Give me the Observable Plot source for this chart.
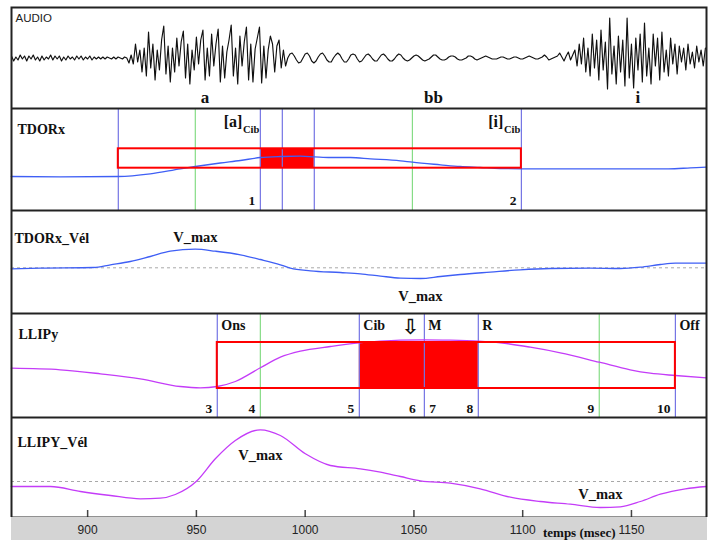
<!DOCTYPE html>
<html><head><meta charset="utf-8">
<script src="https://cdn.jsdelivr.net/npm/d3@7"></script>
<script src="https://cdn.jsdelivr.net/npm/@observablehq/plot@0.6"></script>
<style>
body{margin:0;background:#fff;}
#chart{width:709px;height:540px;overflow:hidden;background:#fff;}
#chart svg{display:block;}
</style>
</head><body><div id="chart"></div>
<script>
// ---------- shared time axis (ms) ----------
const xDomain = [865, 1184.5];
const xTicks = [900, 950, 1000, 1050, 1100, 1150];
const axisTitle = "temps (msec)";
const axisTitleAt = 1126;

// ---------- AUDIO (1 sample per ms from audioStart) ----------
const audioStart = 865;
const audioSamples = [
  2,-3,1,-2,3,-1,2,-3,2,-1,3,-2,1,-3,2,-2,1,-1,3,-2,
  2,-1,2,-3,1,-2,2,-1,1,-2,2,-1,2,-2,1,-1,2,-2,1,-1,
  1,-1,1,-1,1,0,-1,1,-1,1,0,-1,1,0,-5,3,-6,14,-4,8,
  -14,10,-18,26,-10,14,-22,8,-12,18,32,-16,12,-24,10,-14,20,-8,16,27,
  -20,14,-26,8,-12,21,-6,18,28,-22,10,-18,24,-8,14,29,-24,12,-20,6,
  18,33,-18,10,-26,22,-8,16,31,-22,14,-24,9,20,31,-25,12,-20,8,22,
  14,-14,12,18,-10,8,-8,0,4,5,2,-2,-5,-4,0,4,5,2,-3,-5,
  -3,1,4,5,2,-2,-4,-4,0,3,5,3,-1,-4,-4,-1,3,4,3,-1,
  -4,-3,0,3,4,2,-1,-3,-3,0,3,4,2,-1,-3,-3,-1,2,4,3,
  0,-2,-3,-2,0,2,3,2,0,-2,-3,-2,-1,1,3,3,1,-1,-2,-2,
  -1,1,2,2,1,-1,-2,-2,-1,0,2,2,1,-1,-2,-1,0,1,2,1,
  0,-1,-1,-1,0,1,1,0,-1,-1,0,1,1,0,-1,-1,0,1,2,1,
  0,-1,-1,0,1,3,1,-2,-1,0,1,2,5,1,-3,2,6,-2,3,8,
  -8,14,-6,20,-14,10,-18,24,-10,18,-22,28,-12,16,-31,40,-16,12,-26,22,
  -14,18,-28,40,-20,14,-30,20,-12,24,-24,35,-18,10,-26,24,-8,20,-22,26,
  -14,8,-18,20,-6,14,-16,12,-4,10,-12,14,-6,6,-10,12,-4,8,-8,10
];
const audioSegT = [954, 1059, 1153];
const audioSegLabel = ["a", "bb", "i"];

// ---------- TDORx ----------
const tdorT = [864.9, 887.4, 914.1, 928.8, 942.6, 949.5, 961.0, 970.2, 979.4, 988.6, 997.8, 1004.2, 1011.6, 1020.8, 1030.0, 1043.8, 1049.3, 1062.2, 1071.3, 1080.5, 1089.7, 1099.4, 1117.3, 1135.7, 1154.1, 1167.0, 1177.1, 1184.5];
const tdorV = [34, 33.6, 34, 36.7, 41.7, 44, 47.5, 50, 53, 54, 54.3, 53.7, 53, 53, 51.7, 49.7, 48.3, 45.7, 44, 43, 42, 41.7, 41.7, 41.7, 41.7, 41.7, 42.6, 43.3];
const tdorBlueLines = [914.1, 979.4, 989.5, 1004.2, 1099.4];
const tdorGreenLines = [949.5, 1049.3];
const tdorZone = {start: 914.1, end: 1099.4, lo: 42.3, hi: 61.7};
const tdorTarget = {start: 979.4, end: 1004.2};
const tdorTargetT = [979.4, 1099.4];
const tdorTargetPhone = ["[a]", "[i]"];
const tdorNumT = [979.4, 1099.4];
const tdorNum = ["1", "2"];

// ---------- TDORx_Vél ----------
const tdorVelT = [864.9, 878.3, 902.7, 910.5, 919.6, 928.8, 938.0, 949.5, 958.7, 970.2, 979.4, 988.6, 993.2, 1002.4, 1016.2, 1025.4, 1034.6, 1043.8, 1053.0, 1062.2, 1071.3, 1085.1, 1098.9, 1112.7, 1131.1, 1144.9, 1154.1, 1163.3, 1170.2, 1184.5];
const tdorVelV = [-1, -0.3, 0.3, 3, 6.3, 11.3, 16.6, 18.6, 16.6, 13, 8.3, 3, -0.3, -3, -4.7, -6, -8.3, -10.3, -10.7, -8.7, -6.7, -4.3, -2, -0.7, -0.3, -0.7, 0.6, 3.3, 4.6, 4.6];
const tdorVmaxUp = {t: 949.5, v: 18.6};
const tdorVmaxDown = {t: 1053.0, v: -10.7};

// ---------- LLIPy ----------
const llipT = [864.9, 887.4, 905.9, 924.2, 942.6, 951.8, 959.6, 967.9, 979.4, 988.6, 997.8, 1011.6, 1024.9, 1034.6, 1043.8, 1054.8, 1066.7, 1079.6, 1089.7, 1103.5, 1117.3, 1135.2, 1149.4, 1158.6, 1170.2, 1184.5];
const llipV = [49.3, 47.7, 43.7, 38.7, 31, 29.7, 31, 36, 49.7, 60.3, 66.3, 71, 74.7, 76.3, 77.3, 77.7, 77.3, 76.3, 74.7, 70.3, 64.7, 55.3, 47.7, 44.3, 42, 39.7];
const llipBlueLines = [959.6, 1024.9, 1054.8, 1079.6, 1170.2];
const llipGreenLines = [979.4, 1135.2];
const llipZone = {start: 959.6, end: 1170.2, lo: 29, hi: 75};
const llipTarget = {start: 1024.9, end: 1079.6};
const llipTagT = [959.6, 1024.9, 1054.8, 1079.6, 1170.2];
const llipTag = ["Ons", "Cib", "M", "R", "Off"];
const llipArrowT = 1048.4;
const llipNumLeftT = [959.6, 979.4, 1024.9, 1079.6, 1135.2, 1170.2];
const llipNumLeft = ["3", "4", "5", "8", "9", "10"];
const llipNumMidT = [1048.4];
const llipNumMid = ["6"];
const llipNumRightT = [1054.8];
const llipNumRight = ["7"];

// ---------- LLIPY_Vél ----------
const llipVelT = [864.9, 882.9, 896.7, 910.5, 924.2, 933.4, 940.3, 949.9, 958.7, 967.9, 979.4, 988.6, 1000.1, 1011.6, 1025.4, 1034.6, 1043.8, 1053.0, 1066.7, 1080.5, 1094.3, 1108.1, 1121.9, 1135.7, 1144.9, 1154.1, 1163.3, 1174.8, 1184.5];
const llipVelV = [-5, -5, -10, -14, -17.3, -16.7, -13, 0, 22.7, 41, 51.7, 46, 27.7, 16, 12.7, 9.3, 5, 0.7, -1.7, -7.3, -15.7, -20, -22.7, -26, -25.3, -20, -12.7, -7.3, -5];
const llipVmaxUp = {t: 979.4, v: 51.7};
const llipVmaxDown = {t: 1135.7, v: -26};

// ---------- styles ----------
const W = 709, ML = 11, MR = 3;
const serif = "Liberation Serif, Times New Roman, serif";
const sans = "Liberation Sans, Arial, sans-serif";
const ink = "#111";
const blueLine = "#7474e4", greenLine = "#86dc86", red = "#ff0000";
const tdorColor = "#3f5ff5", llipColor = "#c43cf8";
const frameMark = () => Plot.frame({stroke: "#222", strokeWidth: 2});
const bold = (size) => ({fontFamily: serif, fontWeight: "bold", fontSize: size, fill: ink});

function panel(height, yDomain, marks, marginTop = 0) {
  return Plot.plot({
    width: W, height, marginLeft: ML, marginRight: MR, marginTop, marginBottom: 0,
    x: {domain: xDomain, axis: null},
    y: {domain: yDomain, axis: null},
    style: {background: "white", fontFamily: serif},
    marks
  });
}
const zip = (ts, vs) => ts.map((t, i) => ({t, v: vs[i]}));

const chart = document.getElementById("chart");

// AUDIO
const audio = audioSamples.map((v, i) => ({t: audioStart + i, v}));
chart.append(panel(108, [-50.5, 50.5], [
  Plot.line(audio, {x: "t", y: "v", stroke: "#101010", strokeWidth: 1.15}),
  Plot.text(["AUDIO"], {frameAnchor: "top-left", dx: 4, dy: 11, textAnchor: "start", lineAnchor: "middle", fontFamily: sans, fontSize: 11.5, fill: "#222"}),
  Plot.text(audioSegT, {x: d => d, text: (d, i) => audioSegLabel[i], frameAnchor: "bottom", dy: -5.5, lineAnchor: "bottom", ...bold(17)}),
  frameMark()
], 7));

// TDORx
chart.append(panel(102, [0, 102], [
  Plot.rect([tdorTarget], {x1: "start", x2: "end", y1: tdorZone.lo, y2: tdorZone.hi, fill: red}),
  Plot.ruleX(tdorBlueLines, {x: d => d, stroke: blueLine, strokeWidth: 1.2}),
  Plot.ruleX(tdorGreenLines, {x: d => d, stroke: greenLine, strokeWidth: 1.2}),
  Plot.line(zip(tdorT, tdorV), {x: "t", y: "v", stroke: tdorColor, strokeWidth: 1.3, curve: "monotone-x"}),
  Plot.rect([tdorZone], {x1: "start", x2: "end", y1: "lo", y2: "hi", fill: "none", stroke: red, strokeWidth: 2}),
  Plot.text(["TDORx"], {frameAnchor: "top-left", dx: 6, dy: 21, textAnchor: "start", lineAnchor: "middle", ...bold(14)}),
  Plot.text(tdorTargetT, {x: d => d, text: (d, i) => tdorTargetPhone[i], frameAnchor: "top", dx: -18, dy: 18, textAnchor: "end", lineAnchor: "bottom", ...bold(16)}),
  Plot.text(tdorTargetT, {x: d => d, text: () => "Cib", frameAnchor: "top", dx: -1, dy: 24, textAnchor: "end", lineAnchor: "bottom", ...bold(10.5)}),
  Plot.text(tdorNumT, {x: d => d, text: (d, i) => tdorNum[i], frameAnchor: "bottom", dx: -5, dy: -10, textAnchor: "end", lineAnchor: "middle", ...bold(13.5)}),
  frameMark()
]));

// TDORx_Vél
chart.append(panel(103, [-45.7, 57.3], [
  Plot.ruleY([0], {stroke: "#a8a8a8", strokeDasharray: "3,3"}),
  Plot.line(zip(tdorVelT, tdorVelV), {x: "t", y: "v", stroke: tdorColor, strokeWidth: 1.3, curve: "monotone-x"}),
  Plot.text(["TDORx_Vél"], {frameAnchor: "top-left", dx: 3, dy: 28, textAnchor: "start", lineAnchor: "middle", ...bold(14)}),
  Plot.text([tdorVmaxUp], {x: "t", y: "v", text: () => "V_max", dy: -12, lineAnchor: "middle", ...bold(14.5)}),
  Plot.text([tdorVmaxDown], {x: "t", y: "v", text: () => "V_max", dy: 18, lineAnchor: "middle", ...bold(14.5)}),
  frameMark()
]));

// LLIPy
chart.append(panel(104, [0, 104], [
  Plot.rect([llipTarget], {x1: "start", x2: "end", y1: llipZone.lo, y2: llipZone.hi, fill: red}),
  Plot.ruleX(llipBlueLines, {x: d => d, stroke: blueLine, strokeWidth: 1.2}),
  Plot.ruleX(llipGreenLines, {x: d => d, stroke: greenLine, strokeWidth: 1.2}),
  Plot.line(zip(llipT, llipV), {x: "t", y: "v", stroke: llipColor, strokeWidth: 1.3, curve: "monotone-x"}),
  Plot.rect([llipZone], {x1: "start", x2: "end", y1: "lo", y2: "hi", fill: "none", stroke: red, strokeWidth: 2}),
  Plot.text(["LLIPy"], {frameAnchor: "top-left", dx: 7, dy: 21, textAnchor: "start", lineAnchor: "middle", ...bold(14)}),
  Plot.text(llipTagT, {x: d => d, text: (d, i) => llipTag[i], frameAnchor: "top", dx: 4, dy: 12, textAnchor: "start", lineAnchor: "middle", ...bold(14)}),
  Plot.text([llipArrowT], {x: d => d, text: () => "⇩", frameAnchor: "top", dy: 14, lineAnchor: "middle", fontFamily: "DejaVu Sans", fontWeight: "bold", fontSize: 21, fill: ink}),
  Plot.text(llipNumLeftT, {x: d => d, text: (d, i) => llipNumLeft[i], frameAnchor: "bottom", dx: -5, dy: -9, textAnchor: "end", lineAnchor: "middle", ...bold(13.5)}),
  Plot.text(llipNumMidT, {x: d => d, text: (d, i) => llipNumMid[i], frameAnchor: "bottom", dx: 2, dy: -9, lineAnchor: "middle", ...bold(13.5)}),
  Plot.text(llipNumRightT, {x: d => d, text: (d, i) => llipNumRight[i], frameAnchor: "bottom", dx: 5, dy: -9, textAnchor: "start", lineAnchor: "middle", ...bold(13.5)}),
  frameMark()
]));

// LLIPY_Vél
chart.append(panel(100, [-36, 64], [
  Plot.ruleY([0], {stroke: "#a8a8a8", strokeDasharray: "3,3"}),
  Plot.tickX(xTicks, {x: d => d, stroke: "#444", strokeWidth: 1.5, insetTop: 93}),
  Plot.line(zip(llipVelT, llipVelV), {x: "t", y: "v", stroke: llipColor, strokeWidth: 1.3, curve: "monotone-x"}),
  Plot.text(["LLIPY_Vél"], {frameAnchor: "top-left", dx: 6, dy: 25, textAnchor: "start", lineAnchor: "middle", ...bold(14)}),
  Plot.text([llipVmaxUp], {x: "t", y: "v", text: () => "V_max", dy: 26, lineAnchor: "middle", ...bold(14.5)}),
  Plot.text([llipVmaxDown], {x: "t", y: "v", text: () => "V_max", dy: -13, lineAnchor: "middle", ...bold(14.5)}),
  frameMark()
]));

// Axis band
chart.append(Plot.plot({
  width: W, height: 23, marginLeft: ML, marginRight: MR, marginTop: 0, marginBottom: 0,
  x: {domain: xDomain, axis: null},
  style: {background: "white"},
  marks: [
    Plot.frame({fill: "#d4d4d4", stroke: "#d4d4d4"}),
    Plot.text(xTicks, {x: d => d, text: d => String(d), frameAnchor: "middle", dy: 1, fontFamily: sans, fontSize: 12, fill: "#222"}),
    Plot.text([axisTitleAt], {x: d => d, text: () => axisTitle, frameAnchor: "bottom", dy: -8, lineAnchor: "middle", ...bold(13)})
  ]
}));
</script>
</body></html>
